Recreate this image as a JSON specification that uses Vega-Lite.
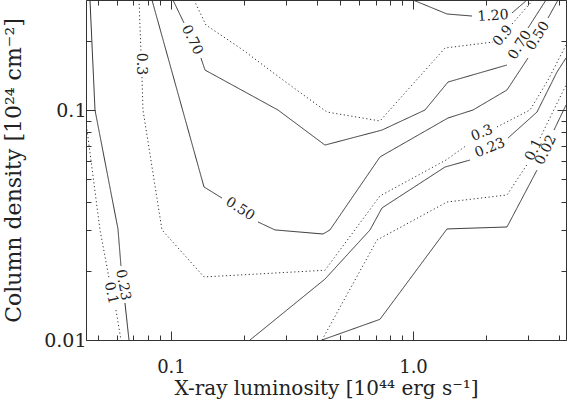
{
"$schema": "https://vega.github.io/schema/vega-lite/v6.json",
"width": 480, "height": 340,
"autosize": {"type": "none"},
"padding": {"left": 86, "top": 0, "right": 1, "bottom": 59},
"config": {"view": {"stroke": "#333", "strokeWidth": 1}, "font": "DejaVu Serif"},
"datasets": {
"contours": [
{"lev":"0.1","seg":"a1","o":1,"x":0.04455,"y":0.0887},{"lev":"0.1","seg":"a1","o":2,"x":0.05090,"y":0.0301},{"lev":"0.1","seg":"a1","o":3,"x":0.05545,"y":0.01861},
{"lev":"0.1","seg":"a2","o":1,"x":0.05925,"y":0.01350},{"lev":"0.1","seg":"a2","o":2,"x":0.06213,"y":0.01},
{"lev":"0.23","seg":"b1","o":1,"x":0.04627,"y":0.3008},{"lev":"0.23","seg":"b1","o":2,"x":0.04853,"y":0.1},{"lev":"0.23","seg":"b1","o":3,"x":0.06039,"y":0.0304},{"lev":"0.23","seg":"b1","o":4,"x":0.06213,"y":0.02098},
{"lev":"0.23","seg":"b2","o":1,"x":0.06454,"y":0.01448},{"lev":"0.23","seg":"b2","o":2,"x":0.06706,"y":0.01},
{"lev":"0.3","seg":"c1","o":1,"x":0.07376,"y":0.3008},{"lev":"0.3","seg":"c1","o":2,"x":0.07516,"y":0.1788},
{"lev":"0.3","seg":"c2","o":1,"x":0.07589,"y":0.1391},{"lev":"0.3","seg":"c2","o":2,"x":0.07661,"y":0.1},{"lev":"0.3","seg":"c2","o":3,"x":0.09181,"y":0.0301},{"lev":"0.3","seg":"c2","o":4,"x":0.1369,"y":0.0188},{"lev":"0.3","seg":"c2","o":5,"x":0.4328,"y":0.0201},{"lev":"0.3","seg":"c2","o":6,"x":0.7304,"y":0.0423},{"lev":"0.3","seg":"c2","o":7,"x":1.3689,"y":0.0606},{"lev":"0.3","seg":"c2","o":8,"x":1.6716,"y":0.0704},
{"lev":"0.3","seg":"c3","o":1,"x":2.2237,"y":0.0844},{"lev":"0.3","seg":"c3","o":2,"x":3.0448,"y":0.1},{"lev":"0.3","seg":"c3","o":3,"x":3.6140,"y":0.1350},{"lev":"0.3","seg":"c3","o":4,"x":4.2876,"y":0.1916},
{"lev":"0.5","seg":"d1","o":1,"x":0.08345,"y":0.3008},{"lev":"0.5","seg":"d1","o":2,"x":0.1369,"y":0.0463},{"lev":"0.5","seg":"d1","o":3,"x":0.1625,"y":0.0414},
{"lev":"0.5","seg":"d2","o":1,"x":0.2288,"y":0.0326},{"lev":"0.5","seg":"d2","o":2,"x":0.2690,"y":0.0301},{"lev":"0.5","seg":"d2","o":3,"x":0.4247,"y":0.0289},{"lev":"0.5","seg":"d2","o":4,"x":0.4539,"y":0.0301},{"lev":"0.5","seg":"d2","o":5,"x":0.7304,"y":0.0625},{"lev":"0.5","seg":"d2","o":6,"x":1.3951,"y":0.0923},{"lev":"0.5","seg":"d2","o":7,"x":1.7697,"y":0.1},{"lev":"0.5","seg":"d2","o":8,"x":2.4453,"y":0.1222},{"lev":"0.5","seg":"d2","o":9,"x":2.9871,"y":0.1683},
{"lev":"0.5","seg":"d3","o":1,"x":3.6140,"y":0.2512},{"lev":"0.5","seg":"d3","o":2,"x":3.9739,"y":0.3008},
{"lev":"0.7","seg":"e1","o":1,"x":0.1019,"y":0.3008},{"lev":"0.7","seg":"e1","o":2,"x":0.1132,"y":0.2389},
{"lev":"0.7","seg":"e2","o":1,"x":0.1330,"y":0.1683},{"lev":"0.7","seg":"e2","o":2,"x":0.1382,"y":0.1492},{"lev":"0.7","seg":"e2","o":3,"x":0.2767,"y":0.1},{"lev":"0.7","seg":"e2","o":4,"x":0.4328,"y":0.0704},{"lev":"0.7","seg":"e2","o":5,"x":0.7445,"y":0.0818},{"lev":"0.7","seg":"e2","o":6,"x":1.1209,"y":0.1},{"lev":"0.7","seg":"e2","o":7,"x":1.3951,"y":0.1323},{"lev":"0.7","seg":"e2","o":8,"x":2.4453,"y":0.1569},
{"lev":"0.7","seg":"e3","o":1,"x":2.9871,"y":0.2272},{"lev":"0.7","seg":"e3","o":2,"x":3.5449,"y":0.3008},
{"lev":"0.9","seg":"f1","o":1,"x":0.1245,"y":0.3008},{"lev":"0.9","seg":"f1","o":2,"x":0.1395,"y":0.2342},{"lev":"0.9","seg":"f1","o":3,"x":0.1984,"y":0.1823},{"lev":"0.9","seg":"f1","o":4,"x":0.2903,"y":0.1350},{"lev":"0.9","seg":"f1","o":5,"x":0.4411,"y":0.0980},{"lev":"0.9","seg":"f1","o":6,"x":0.7304,"y":0.0896},{"lev":"0.9","seg":"f1","o":7,"x":1.3561,"y":0.1860},{"lev":"0.9","seg":"f1","o":8,"x":2.1413,"y":0.1975},
{"lev":"0.9","seg":"f2","o":1,"x":2.5646,"y":0.2365},{"lev":"0.9","seg":"f2","o":2,"x":3.1327,"y":0.3008},
{"lev":"1.2","seg":"g1","o":1,"x":1.0,"y":0.3008},{"lev":"1.2","seg":"g1","o":2,"x":1.3820,"y":0.2615},{"lev":"1.2","seg":"g1","o":3,"x":1.7530,"y":0.2562},
{"lev":"1.2","seg":"g2","o":1,"x":2.5646,"y":0.2641},{"lev":"1.2","seg":"g2","o":2,"x":2.9592,"y":0.3008},
{"lev":"0.23","seg":"h1","o":1,"x":0.2121,"y":0.01},{"lev":"0.23","seg":"h1","o":2,"x":0.4328,"y":0.0184},{"lev":"0.23","seg":"h1","o":3,"x":0.6644,"y":0.0301},{"lev":"0.23","seg":"h1","o":4,"x":0.7445,"y":0.0375},{"lev":"0.23","seg":"h1","o":5,"x":1.3561,"y":0.0565},{"lev":"0.23","seg":"h1","o":6,"x":1.7200,"y":0.0606},
{"lev":"0.23","seg":"h2","o":1,"x":2.4689,"y":0.0755},{"lev":"0.23","seg":"h2","o":2,"x":3.2541,"y":0.0980},{"lev":"0.23","seg":"h2","o":3,"x":3.9361,"y":0.1463},{"lev":"0.23","seg":"h2","o":4,"x":4.2876,"y":0.1683},
{"lev":"0.1","seg":"i1","o":1,"x":0.4207,"y":0.01},{"lev":"0.1","seg":"i1","o":2,"x":0.7098,"y":0.0272},{"lev":"0.1","seg":"i1","o":3,"x":1.3820,"y":0.0398},{"lev":"0.1","seg":"i1","o":4,"x":2.4453,"y":0.0427},{"lev":"0.1","seg":"i1","o":5,"x":2.9871,"y":0.0588},
{"lev":"0.1","seg":"i2","o":1,"x":3.3485,"y":0.0755},{"lev":"0.1","seg":"i2","o":2,"x":4.2876,"y":0.1284},
{"lev":"0.02","seg":"j1","o":1,"x":0.4207,"y":0.01},{"lev":"0.02","seg":"j1","o":2,"x":0.7304,"y":0.0123},{"lev":"0.02","seg":"j1","o":3,"x":1.3820,"y":0.0304},{"lev":"0.02","seg":"j1","o":4,"x":2.4453,"y":0.0310},{"lev":"0.02","seg":"j1","o":5,"x":3.2541,"y":0.0548},
{"lev":"0.02","seg":"j2","o":1,"x":3.8254,"y":0.0818},{"lev":"0.02","seg":"j2","o":2,"x":4.2876,"y":0.1051}
],
"labels": [
{"g":"L1","t":"0.1","x":0.05650,"y":0.01600},
{"g":"L2","t":"0.23","x":0.06332,"y":0.01734},
{"g":"L3","t":"0.3","x":0.07516,"y":0.1585},
{"g":"L4","t":"0.70","x":0.1221,"y":0.2014},
{"g":"L5","t":"0.50","x":0.1928,"y":0.0371},
{"g":"L6","t":"1.20","x":2.1413,"y":0.2562},
{"g":"L7","t":"0.3","x":1.9280,"y":0.0794},
{"g":"L8","t":"0.23","x":2.0805,"y":0.0684},
{"g":"L9","t":"0.1","x":3.1623,"y":0.0670},
{"g":"L10","t":"0.02","x":3.5449,"y":0.0670},
{"g":"L11","t":"0.9","x":2.3547,"y":0.2098},
{"g":"L12","t":"0.70","x":2.7677,"y":0.1916},
{"g":"L13","t":"0.50","x":3.2852,"y":0.2098}
]
},
"resolve": {"axis": {"x": "independent", "y": "independent"}},
"layer": [
{
"data": {"name": "contours"},
"mark": {"type": "line", "color": "#333", "strokeWidth": 1, "clip": true},
"encoding": {
"x": {"field": "x", "type": "quantitative", "scale": {"type": "log", "domain": [0.04455, 4.2876], "nice": false},
 "axis": {"title": "X-ray luminosity [10⁴⁴ erg s⁻¹]", "orient": "bottom", "values": [0.05,0.06,0.07,0.08,0.09,0.1,0.2,0.3,0.4,0.5,0.6,0.7,0.8,0.9,1,2,3,4],
  "labelExpr": "datum.value==0.1?'0.1':(datum.value==1?'1.0':'')",
  "tickSize": {"condition": {"test": "datum.value==0.1||datum.value==1", "value": -9}, "value": -5},
  "domain": false, "grid": false, "tickColor": "#333", "labelColor": "#222", "titleColor": "#222",
  "labelFontSize": 18, "titleFontSize": 20, "titleFontWeight": "normal", "labelFont": "DejaVu Serif", "titleFont": "DejaVu Serif",
  "labelPadding": 27, "titleBaseline": "alphabetic", "titleY": 54, "labelOverlap": false, "labelFlush": false}},
"y": {"field": "y", "type": "quantitative", "scale": {"type": "log", "domain": [0.01, 0.3008], "nice": false},
 "axis": {"title": "Column density [10²⁴ cm⁻²]", "orient": "left", "values": [0.01,0.02,0.03,0.04,0.05,0.06,0.07,0.08,0.09,0.1,0.2,0.3],
  "labelExpr": "datum.value==0.1?'0.1':(datum.value==0.01?'0.01':'')",
  "tickSize": {"condition": {"test": "datum.value==0.1||datum.value==0.01", "value": -9}, "value": -5},
  "domain": false, "grid": false, "tickColor": "#333", "labelColor": "#222", "titleColor": "#222",
  "labelFontSize": 19, "titleFontSize": 22, "titleFontWeight": "normal", "labelFont": "DejaVu Serif", "titleFont": "DejaVu Serif",
  "labelPadding": 9, "titleBaseline": "alphabetic", "titleX": -66, "labelOverlap": false, "labelFlush": false}},
"detail": {"field": "seg"},
"order": {"field": "o", "type": "quantitative"},
"strokeDash": {"field": "lev", "type": "nominal", "legend": null,
 "scale": {"domain": ["0.02","0.1","0.23","0.3","0.5","0.7","0.9","1.2"], "range": [[1,0],[1.2,2.6],[1,0],[1.2,2.6],[1,0],[1,0],[1.2,2.6],[1,0]]}}
}
},
{
"data": {"name": "labels"},
"encoding": {
"x": {"field": "x", "type": "quantitative", "scale": {"type": "log", "domain": [0.04455, 4.2876], "nice": false},
 "axis": {"title": null, "orient": "top", "values": [0.05,0.06,0.07,0.08,0.09,0.1,0.2,0.3,0.4,0.5,0.6,0.7,0.8,0.9,1,2,3,4], "labels": false,
  "tickSize": {"condition": {"test": "datum.value==0.1||datum.value==1", "value": -9}, "value": -5}, "domain": false, "grid": false, "tickColor": "#333"}},
"y": {"field": "y", "type": "quantitative", "scale": {"type": "log", "domain": [0.01, 0.3008], "nice": false},
 "axis": {"title": null, "orient": "right", "values": [0.01,0.02,0.03,0.04,0.05,0.06,0.07,0.08,0.09,0.1,0.2,0.3], "labels": false,
  "tickSize": {"condition": {"test": "datum.value==0.1||datum.value==0.01", "value": -9}, "value": -5}, "domain": false, "grid": false, "tickColor": "#333"}},
"text": {"field": "t"}
},
"layer": [
{"transform": [{"filter": "datum.g=='L1'"}], "mark": {"type": "text", "angle": 78, "fontSize": 14, "font": "DejaVu Serif", "color": "#222"}},
{"transform": [{"filter": "datum.g=='L2'"}], "mark": {"type": "text", "angle": 80, "fontSize": 14, "font": "DejaVu Serif", "color": "#222"}},
{"transform": [{"filter": "datum.g=='L3'"}], "mark": {"type": "text", "angle": 90, "fontSize": 14, "font": "DejaVu Serif", "color": "#222"}},
{"transform": [{"filter": "datum.g=='L4'"}], "mark": {"type": "text", "angle": 64, "fontSize": 14, "font": "DejaVu Serif", "color": "#222"}},
{"transform": [{"filter": "datum.g=='L5'"}], "mark": {"type": "text", "angle": 33, "fontSize": 14, "font": "DejaVu Serif", "color": "#222"}},
{"transform": [{"filter": "datum.g=='L6'"}], "mark": {"type": "text", "angle": -4, "fontSize": 14, "font": "DejaVu Serif", "color": "#222"}},
{"transform": [{"filter": "datum.g=='L7'"}], "mark": {"type": "text", "angle": -22, "fontSize": 14, "font": "DejaVu Serif", "color": "#222"}},
{"transform": [{"filter": "datum.g=='L8'"}], "mark": {"type": "text", "angle": -22, "fontSize": 14, "font": "DejaVu Serif", "color": "#222"}},
{"transform": [{"filter": "datum.g=='L9'"}], "mark": {"type": "text", "angle": -64, "fontSize": 14, "font": "DejaVu Serif", "color": "#222"}},
{"transform": [{"filter": "datum.g=='L10'"}], "mark": {"type": "text", "angle": -64, "fontSize": 14, "font": "DejaVu Serif", "color": "#222"}},
{"transform": [{"filter": "datum.g=='L11'"}], "mark": {"type": "text", "angle": -50, "fontSize": 14, "font": "DejaVu Serif", "color": "#222"}},
{"transform": [{"filter": "datum.g=='L12'"}], "mark": {"type": "text", "angle": -58, "fontSize": 14, "font": "DejaVu Serif", "color": "#222"}},
{"transform": [{"filter": "datum.g=='L13'"}], "mark": {"type": "text", "angle": -58, "fontSize": 14, "font": "DejaVu Serif", "color": "#222"}}
]
}
]
}
